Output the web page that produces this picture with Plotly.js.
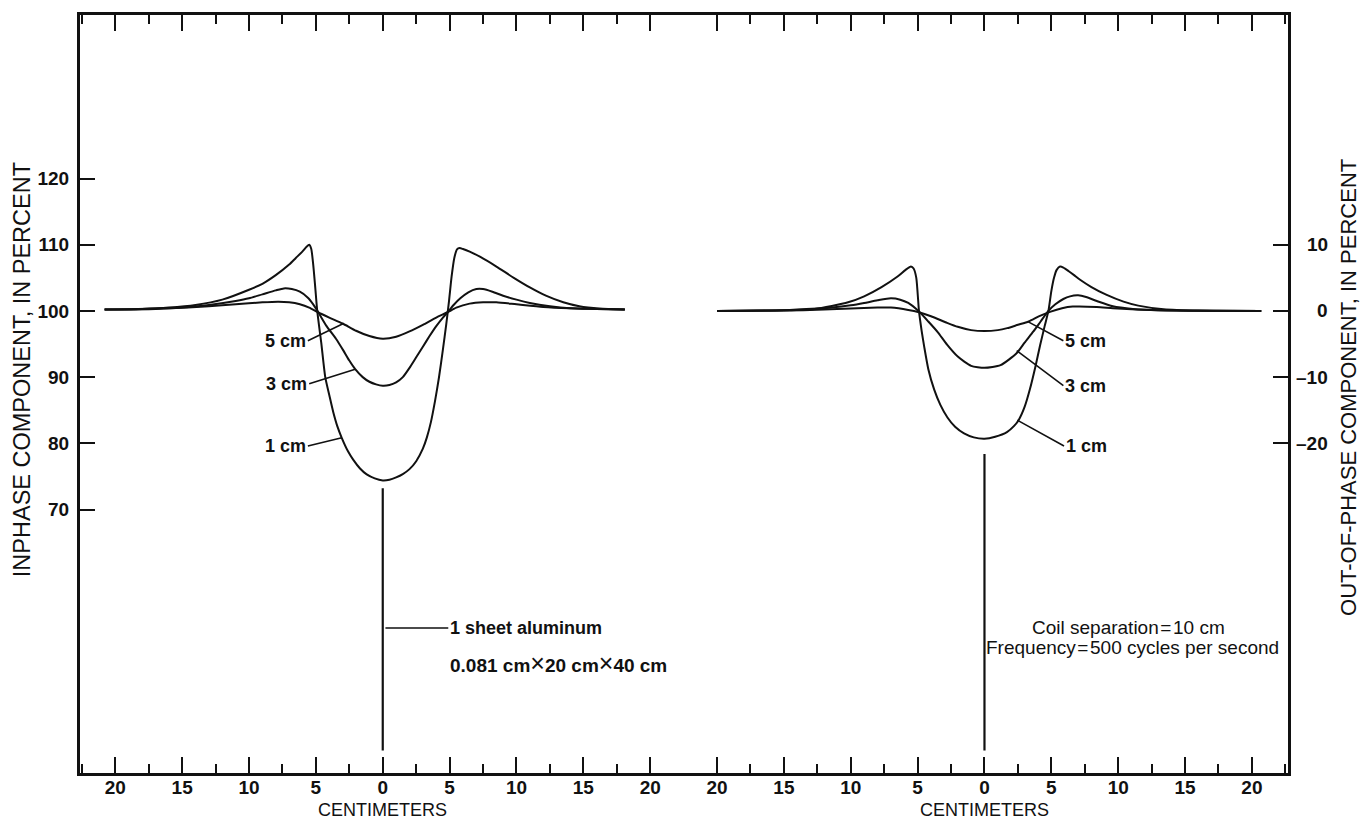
<!DOCTYPE html>
<html>
<head>
<meta charset="utf-8">
<script src="https://cdn.plot.ly/plotly-3.0.1.min.js"></script>
<style>
  html, body { margin: 0; padding: 0; background: #ffffff; }
  #chart { width: 1369px; height: 820px; }
</style>
</head>
<body>
<div id="chart"></div>
<script>
// ---- Inphase component (left panel): distance from sheet centre, cm -> percent ----
const inX_1cm = [-20.8, -18, -16, -14, -12, -10, -9, -8, -7, -6.5, -6, -5.7, -5.5, -5.35, -5.2, -5.05, -4.9, -4.6, -4.3, -4.0, -3.7, -3.4, -3.06, -2.6, -2.2, -1.7, -1.2, -0.6, 0, 0.5, 1.0, 1.5, 2.0, 2.5, 3.0, 3.3, 3.6, 3.9, 4.2, 4.5, 4.75, 4.95, 5.15, 5.35, 5.55, 5.75, 6.0, 6.5, 7.3, 8.5, 9.8, 11, 12.2, 13.5, 14.7, 16.2, 18.1];
const inY_1cm = [100.2, 100.3, 100.5, 100.9, 101.7, 103.2, 104.1, 105.4, 107.0, 108.0, 109.0, 109.7, 110.0, 109.4, 107.0, 103.6, 100.0, 95.2, 90.0, 87.3, 84.7, 82.6, 80.8, 78.8, 77.5, 76.2, 75.3, 74.7, 74.4, 74.5, 74.85, 75.35, 76.1, 77.3, 79.2, 80.9, 83.2, 86.3, 89.9, 94.2, 98.0, 101.4, 105.2, 108.0, 109.3, 109.5, 109.35, 108.95, 108.15, 106.7, 105.0, 103.55, 102.3, 101.3, 100.7, 100.35, 100.2];

const inX_3cm = [-20.8, -17, -15, -13, -11, -10, -9, -8, -7.4, -6.8, -6.2, -5.6, -5.2, -4.85, -4.2, -3.5, -2.94, -2.5, -2.06, -1.5, -1.0, -0.5, 0, 0.5, 1.0, 1.5, 2.0, 2.5, 3.0, 3.5, 4.0, 4.5, 4.85, 5.3, 5.8, 6.4, 7.0, 7.5, 8.2, 9.0, 10, 11, 12.5, 14, 16, 18.1];
const inY_3cm = [100.2, 100.3, 100.5, 100.9, 101.5, 101.9, 102.5, 103.1, 103.4, 103.3, 102.9, 102.0, 101.0, 99.9, 97.7, 95.8, 94.0, 92.5, 91.2, 90.0, 89.3, 88.9, 88.7, 88.8, 89.2, 90.0, 91.4, 93.0, 94.6, 96.2, 97.7, 99.0, 99.8, 100.9, 101.9, 102.8, 103.3, 103.3, 102.9, 102.3, 101.7, 101.2, 100.7, 100.4, 100.3, 100.2];

const inX_5cm = [-20.8, -16, -13, -11, -9, -7.8, -7, -6.2, -5.5, -4.85, -4.0, -3.0, -2.0, -1.0, 0, 1.0, 2.0, 3.0, 4.0, 4.85, 5.5, 6.5, 7.5, 8.5, 10, 12, 14, 16, 18.1];
const inY_5cm = [100.2, 100.4, 100.7, 101.0, 101.3, 101.4, 101.3, 101.0, 100.5, 99.8, 99.0, 98.1, 97.0, 96.2, 95.8, 96.1, 96.9, 97.9, 99.0, 99.8, 100.5, 101.1, 101.3, 101.3, 101.0, 100.6, 100.4, 100.3, 100.2];

// ---- Out-of-phase component (right panel): distance, cm -> percent ----
const outX_1cm = [-20, -17, -15, -12.7, -10.2, -9, -7.7, -6.5, -5.9, -5.5, -5.3, -5.1, -4.9, -4.7, -4.5, -4.2, -3.76, -3.3, -2.77, -2.2, -1.53, -0.8, 0, 0.8, 1.68, 2.2, 2.55, 3.0, 3.4, 3.8, 4.16, 4.5, 4.78, 5.0, 5.2, 5.4, 5.65, 5.9, 6.3, 6.7, 7.15, 8.0, 9.1, 10.4, 11.5, 13.4, 16, 20.7];
const outY_1cm = [0, 0.05, 0.1, 0.3, 1.3, 2.2, 3.6, 5.2, 6.2, 6.7, 6.4, 5.0, 0, -3.0, -5.5, -8.8, -11.9, -14.2, -16.1, -17.5, -18.5, -19.1, -19.3, -19.0, -18.3, -17.4, -16.5, -14.5, -11.8, -8.5, -5.2, -2.3, 0, 3.0, 5.0, 6.2, 6.7, 6.55, 6.0, 5.4, 4.7, 3.6, 2.45, 1.4, 0.8, 0.25, 0.05, 0];

const outX_3cm = [-20, -15, -12.5, -11.4, -10, -9, -8, -7, -6.3, -5.7, -4.9, -4.2, -3.5, -2.8, -2.0, -1.0, 0, 1.2, 2.4, 3.0, 3.66, 4.2, 4.78, 5.3, 5.9, 6.4, 7.0, 7.6, 8.4, 9.6, 11.1, 13, 16, 20.7];
const outY_3cm = [0, 0.1, 0.35, 0.5, 0.85, 1.2, 1.6, 1.9, 1.7, 1.2, -0.1, -1.6, -3.2, -5.1, -6.9, -8.3, -8.6, -8.2, -6.4, -4.8, -3.1, -1.6, 0, 1.0, 1.8, 2.2, 2.35, 2.1, 1.5, 0.7, 0.3, 0.1, 0.03, 0];

const outX_5cm = [-20, -15, -12, -10, -8, -7, -5.7, -4.9, -4.0, -2.8, -2.0, -1.0, 0, 1.0, 1.7, 2.5, 3.3, 4.1, 4.9, 5.8, 6.6, 8.4, 9.6, 11, 13, 16, 20.7];
const outY_5cm = [0, 0.05, 0.2, 0.35, 0.5, 0.5, 0.15, -0.2, -0.8, -1.8, -2.4, -2.9, -3.05, -2.9, -2.6, -2.1, -1.6, -0.8, -0.15, 0.4, 0.65, 0.6, 0.4, 0.25, 0.1, 0.03, 0];

// ---- Axis ticks ----
const xMajor = [-20, -15, -10, -5, 0, 5, 10, 15, 20];
const xMajorText = ['20', '15', '10', '5', '0', '5', '10', '15', '20'];
const xMinor = [-22.5, -17.5, -12.5, -7.5, -2.5, 2.5, 7.5, 12.5, 17.5, 22.5];
const inTicks = [70, 80, 90, 100, 110, 120];
const outTicks = [-20, -10, 0, 10];
const outTickText = ['\u201320', '\u201310', '0', '10'];

// ---- Sheet position markers (x = 0) and their extent on each scale ----
const sheetInY = [73.2, 33.6];
const sheetOutY = [-21.6, -66.4];

// ---- Curve labels: [text, point on curve x, y, label anchor x, y] ----
const inLabels = [
  ['5 cm', -2.94, 98.1, -5.6, 95.5],
  ['3 cm', -2.06, 91.2, -5.5, 89.0],
  ['1 cm', -3.06, 80.85, -5.6, 79.6]
];
const outLabels = [
  ['5 cm', 3.28, -1.65, 5.9, -4.5],
  ['3 cm', 2.41, -6.0, 5.9, -11.3],
  ['1 cm', 2.45, -16.5, 5.95, -20.4]
];

const INK = '#111111';
const FONT = 'Liberation Sans, Arial, sans-serif';

function curve(x, y, xa, ya) {
  return {
    x: x, y: y, xaxis: xa, yaxis: ya, type: 'scatter', mode: 'lines',
    line: { color: INK, width: 2, shape: 'spline', smoothing: 0.6 },
    hoverinfo: 'skip'
  };
}
function stem(y, xa, ya) {
  return {
    x: [0, 0], y: y, xaxis: xa, yaxis: ya, type: 'scatter', mode: 'lines',
    line: { color: INK, width: 2.2 }, hoverinfo: 'skip'
  };
}

const traces = [
  curve(inX_1cm, inY_1cm, 'x', 'y'),
  curve(inX_3cm, inY_3cm, 'x', 'y'),
  curve(inX_5cm, inY_5cm, 'x', 'y'),
  curve(outX_1cm, outY_1cm, 'x2', 'y2'),
  curve(outX_3cm, outY_3cm, 'x2', 'y2'),
  curve(outX_5cm, outY_5cm, 'x2', 'y2'),
  stem(sheetInY, 'x', 'y'),
  stem(sheetOutY, 'x2', 'y2')
];

const tickFont = { family: FONT, size: 19, color: INK, weight: 'bold' };

function xAxis(domain, range, anchor) {
  return {
    domain: domain, range: range, anchor: anchor,
    tickmode: 'array', tickvals: xMajor, ticktext: xMajorText,
    ticks: 'inside', ticklen: 16, tickwidth: 2, tickcolor: INK,
    minor: { tickmode: 'array', tickvals: xMinor, ticks: 'inside', ticklen: 9, tickwidth: 2, tickcolor: INK },
    showline: true, linewidth: 3, linecolor: INK, mirror: 'ticks',
    showgrid: false, zeroline: false, fixedrange: true,
    tickfont: tickFont, ticklabelstandoff: -5
  };
}

const annotations = [];
function addLabels(list, xr, yr, side) {
  list.forEach(function (d) {
    annotations.push({
      xref: xr, yref: yr, axref: xr, ayref: yr,
      x: d[1], y: d[2], ax: d[3], ay: d[4],
      text: d[0], showarrow: true, arrowhead: 0, arrowwidth: 1.6, arrowcolor: INK,
      standoff: 0, startstandoff: 0,
      xanchor: side, yanchor: 'middle',
      font: { family: FONT, size: 18, color: INK, weight: 'bold' }
    });
  });
}
addLabels(inLabels, 'x', 'y', 'right');
addLabels(outLabels, 'x2', 'y2', 'left');

// right-hand scale numbers, right-aligned just inside the axis title
outTicks.forEach(function (v, i) {
  annotations.push({
    xref: 'paper', yref: 'y2', x: 1.0348, y: v, xanchor: 'right', yanchor: 'middle',
    text: outTickText[i], showarrow: false, font: tickFont
  });
});

// x axis titles under each panel
['x', 'x2'].forEach(function (xr) {
  annotations.push({
    xref: xr, yref: 'paper', x: 0, y: -0.049, xanchor: 'center', yanchor: 'middle',
    text: 'CENTIMETERS', showarrow: false,
    font: { family: FONT, size: 18, color: INK }
  });
});

// sheet description with its leader line
annotations.push({
  xref: 'x', yref: 'y', axref: 'x', ayref: 'y',
  x: 0.2, y: 52.1, ax: 4.9, ay: 52.1,
  text: '1 sheet aluminum', showarrow: true, arrowhead: 0, arrowwidth: 1.6, arrowcolor: INK,
  standoff: 0, startstandoff: 0, xanchor: 'left', yanchor: 'middle',
  font: { family: FONT, size: 18, color: INK, weight: 'bold' }
});
annotations.push({
  xref: 'x', yref: 'y', x: 4.9, y: 46.8, xanchor: 'left', yanchor: 'middle',
  text: '0.081 cm<span style="font-size:25px;font-weight:normal">\u00d7</span>20 cm<span style="font-size:25px;font-weight:normal">\u00d7</span>40 cm',
  showarrow: false,
  font: { family: FONT, size: 19, color: INK, weight: 'bold' }
});
annotations.push({
  xref: 'x2', yref: 'y2', x: 10.8, y: -47.8, xanchor: 'center', yanchor: 'middle',
  text: 'Coil separation\u200a=\u200a10 cm', showarrow: false,
  font: { family: FONT, size: 19, color: INK }
});
annotations.push({
  xref: 'x2', yref: 'y2', x: 11.1, y: -50.9, xanchor: 'center', yanchor: 'middle',
  text: 'Frequency\u200a=\u200a500 cycles per second', showarrow: false,
  font: { family: FONT, size: 19, color: INK }
});

// vertical axis titles
annotations.push({
  xref: 'paper', yref: 'paper', x: -0.0485, y: 0.532, xanchor: 'center', yanchor: 'middle',
  text: 'INPHASE COMPONENT, IN PERCENT', textangle: -90, showarrow: false,
  font: { family: FONT, size: 23.5, color: INK }
});
annotations.push({
  xref: 'paper', yref: 'paper', x: 1.0505, y: 0.508, xanchor: 'center', yanchor: 'middle',
  text: 'OUT-OF-PHASE COMPONENT, IN PERCENT', textangle: -90, showarrow: false,
  font: { family: FONT, size: 22, color: INK }
});

const layout = {
  width: 1369, height: 820,
  margin: { l: 80, r: 81, t: 15, b: 47 },
  paper_bgcolor: '#ffffff', plot_bgcolor: '#ffffff',
  showlegend: false,
  xaxis: xAxis([0, 0.4997], [-22.64, 22.5], 'y'),
  xaxis2: xAxis([0.4997, 1], [-22.5, 22.7], 'y2'),
  yaxis: {
    domain: [0, 1], range: [30.2, 144.7], anchor: 'x', side: 'left',
    tickmode: 'array', tickvals: inTicks,
    ticks: 'inside', ticklen: 15, tickwidth: 2, tickcolor: INK,
    showline: true, linewidth: 3, linecolor: INK,
    showgrid: false, zeroline: false, fixedrange: true,
    tickfont: tickFont, ticklabelstandoff: 4
  },
  yaxis2: {
    domain: [0, 1], range: [-69.8, 44.7], anchor: 'x2', side: 'right',
    tickmode: 'array', tickvals: outTicks, showticklabels: false,
    ticks: 'inside', ticklen: 15, tickwidth: 2, tickcolor: INK,
    showline: true, linewidth: 3, linecolor: INK,
    showgrid: false, zeroline: false, fixedrange: true
  },
  annotations: annotations
};

Plotly.newPlot('chart', traces, layout, { staticPlot: true, displayModeBar: false });
</script>
</body>
</html>
